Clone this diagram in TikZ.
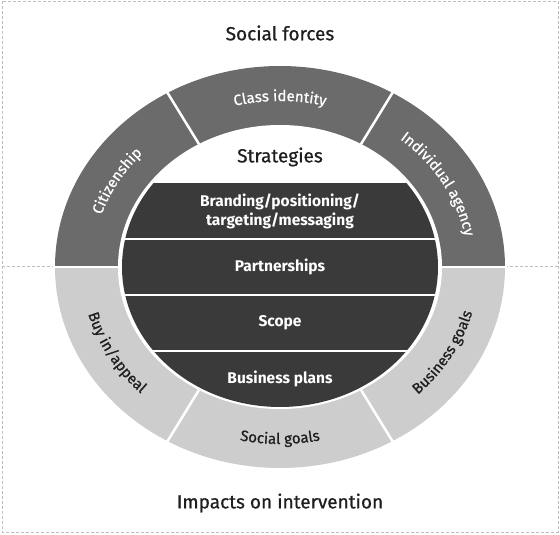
\documentclass[tikz,border=0pt]{standalone}
\usepackage{fontspec}
\setmainfont{Fira Sans}
\newfontfamily\medfont{Fira Sans}[FakeBold=0.7]
\usetikzlibrary{decorations.text}

\definecolor{ringdark}{HTML}{6B6B6B}
\definecolor{ringlight}{HTML}{CDCDCD}
\definecolor{bandfill}{HTML}{3A3A3A}
\definecolor{titletext}{HTML}{1E1E1E}
\definecolor{framegray}{HTML}{BDBDBD}

\begin{document}
\begin{tikzpicture}[x=1pt, y=1pt,
  frame/.style={draw=framegray, line width=0.8pt, dash pattern=on 3pt off 2pt},
  divider/.style={draw=white, line width=2.5pt},
  title/.style={font=\medfont\fontsize{19}{22}\selectfont, text=titletext, inner sep=1pt},
  bandlabel/.style={font=\fontsize{15.5}{19}\selectfont\bfseries, text=white, align=center, inner sep=1pt},
  ringup/.style={decorate, decoration={text along path, text align=center, text color=white, text={|\medfont\fontsize{15}{17}\selectfont|#1}}},
  ringdown/.style={decorate, decoration={text along path, text align=center, text color=titletext, text={|\medfont\fontsize{15}{17}\selectfont|#1}}}]
  \useasboundingbox (-280,-268) rectangle (280,267);
  % frame, split in two halves
  \draw[frame] (-278,266) rectangle (278,-265);
  \draw[frame] (-278,1) -- (-225,1);
  \draw[frame] (225,1) -- (278,1);
  % outer ring
  \fill[ringdark] (-225,0) arc[start angle=180, end angle=0, x radius=225, y radius=201] -- cycle;
  \fill[ringlight] (225,0) arc[start angle=0, end angle=-180, x radius=225, y radius=201] -- cycle;
  \fill[white] (0,0) ellipse[x radius=162, y radius=142];
  \draw[divider] (-227,0) -- (-160,0);
  \draw[divider] (160,0) -- (227,0);
  \foreach \a in {60,120,240,300}
    \draw[divider] (\a:160 and 140) -- (\a:228 and 204);
  % strategy bands
  \begin{scope}
    \clip (0,0) ellipse[x radius=158, y radius=140];
    \fill[bandfill] (-160,84) rectangle (160,-142);
    \foreach \y in {28,-28,-84}
      \draw[divider, line width=2pt] (-160,\y) -- (160,\y);
  \end{scope}
  % ring labels
  \path[ringup={Citizenship}] (180:188 and 166) arc[start angle=180, end angle=120, x radius=188, y radius=166];
  \path[ringup={Class identity}] (120:188 and 166) arc[start angle=120, end angle=60, x radius=188, y radius=166];
  \path[ringup={Individual agency}] (60:188 and 166) arc[start angle=60, end angle=0, x radius=188, y radius=166];
  \path[ringdown={Buy in/appeal}] (180:199 and 177) arc[start angle=180, end angle=240, x radius=199, y radius=177];
  \path[ringdown={Social goals}] (240:199 and 177) arc[start angle=240, end angle=300, x radius=199, y radius=177];
  \path[ringdown={Business goals}] (300:199 and 177) arc[start angle=300, end angle=360, x radius=199, y radius=177];
  % titles
  \node[title] (forces) at (0,234) {Social forces};
  \node[title] (strategies) at (0,110) {Strategies};
  \node[title] (impacts) at (0,-236) {Impacts on intervention};
  % band texts
  \node[bandlabel] (branding) at (0,56) {Branding/positioning/\\targeting/messaging};
  \node[bandlabel] (partners) at (0,0) {Partnerships};
  \node[bandlabel] (scopeband) at (0,-56) {Scope};
  \node[bandlabel] (plans) at (0,-112) {Business plans};
\end{tikzpicture}
\end{document}
